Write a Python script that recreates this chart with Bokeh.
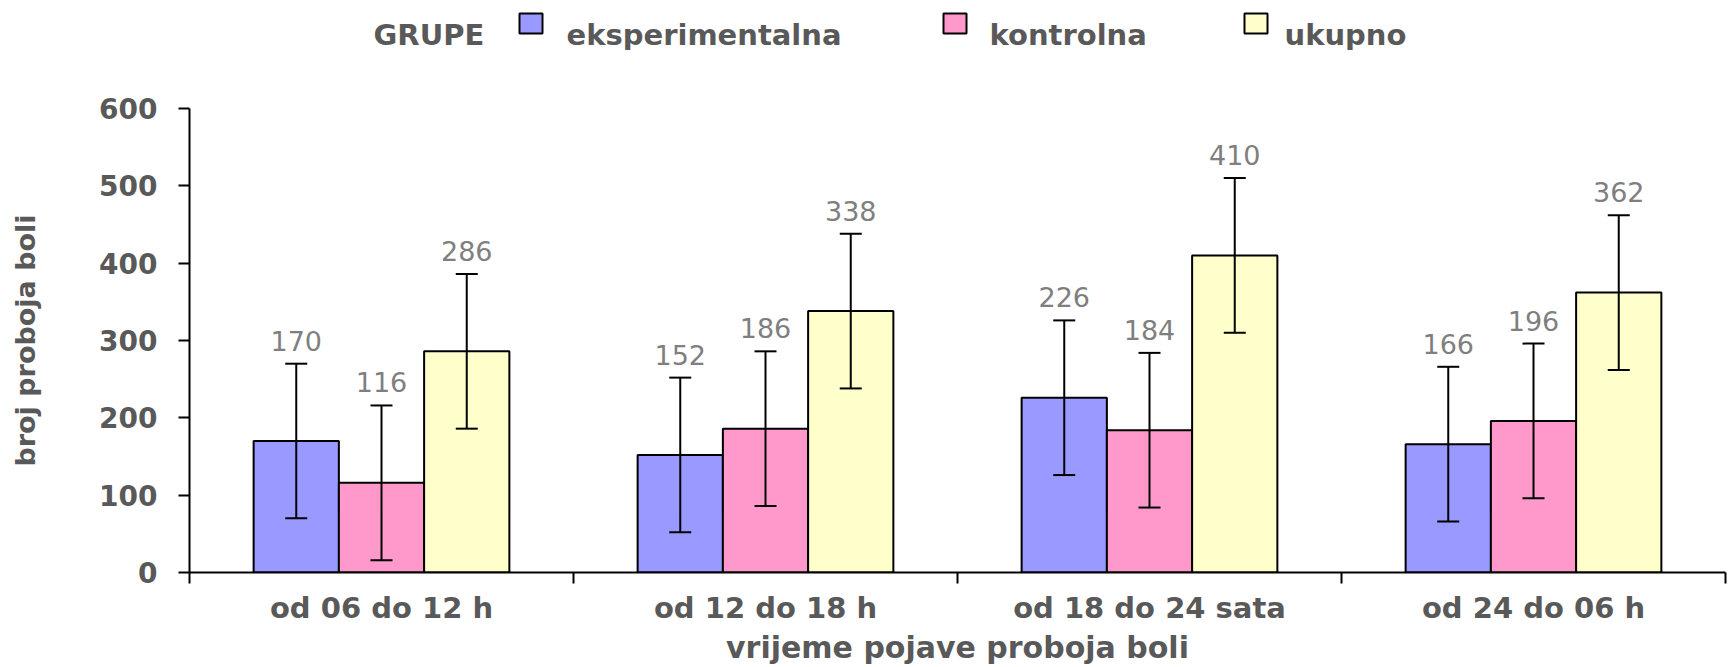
from bokeh.plotting import figure
from bokeh.models import Range1d, FixedTicker, ColumnDataSource, Whisker, TeeHead, LabelSet
from bokeh.layouts import column
from bokeh.embed import file_html
from bokeh.resources import INLINE
from bokeh.core.properties import value

# ---------------- data ----------------
categories = ["od 06 do 12 h", "od 12 do 18 h", "od 18 do 24 sata", "od 24 do 06 h"]
groups = ["eksperimentalna", "kontrolna", "ukupno"]
eksperimentalna = [170, 152, 226, 166]
kontrolna = [116, 186, 184, 196]
ukupno = [286, 338, 410, 362]
err_eksperimentalna = [100, 100, 100, 100]
err_kontrolna = [100, 100, 100, 100]
err_ukupno = [100, 100, 100, 100]
y_ticks = [0, 100, 200, 300, 400, 500, 600]
legend_title = "GRUPE"
x_title = "vrijeme pojave proboja boli"
y_title = "broj proboja boli"

colors = ["#9999FF", "#FF99CC", "#FFFFCC"]
series = [eksperimentalna, kontrolna, ukupno]
errors = [err_eksperimentalna, err_kontrolna, err_ukupno]

FONT = "DejaVu Sans"
TXT = "#595959"
W = 1731
LEFT = 189          # frame left (px)
RIGHT_B = 6         # border right (px)
LG_H = 50
FRAME_TOP = 108
FRAME_BOTTOM = 574

# ---------------- legend strip (x data units == page pixels) ----------------
lg = figure(width=W, height=LG_H, x_range=Range1d(LEFT, W - RIGHT_B), y_range=Range1d(LG_H, 0),
            output_backend="svg", toolbar_location=None,
            min_border_left=LEFT, min_border_right=RIGHT_B, min_border_top=0, min_border_bottom=0,
            x_axis_location=None, y_axis_location=None)
lg.xgrid.visible = False
lg.ygrid.visible = False
lg.outline_line_color = None
sq_left = [519, 943, 1244]
sq_w = 23
txt_x = [566, 989, 1284]
lg.quad(left=sq_left, right=[v + sq_w for v in sq_left], top=[13] * 3, bottom=[33] * 3,
        fill_color=colors, line_color="black", line_width=2)
lg.text(x=[373], y=[34], text=[legend_title], text_font=value(FONT), text_font_style="bold",
        text_font_size="29px", text_color=TXT, text_baseline="alphabetic", text_align="left")
lg.text(x=txt_x, y=[34] * 3, text=groups, text_font=value(FONT), text_font_style="bold",
        text_font_size="29px", text_color=TXT, text_baseline="alphabetic", text_align="left")

# ---------------- main chart ----------------
n = len(categories)
ymax = y_ticks[-1]
p = figure(width=W, height=667 - LG_H, x_range=Range1d(0, n), y_range=Range1d(0, ymax),
           output_backend="svg", toolbar_location=None,
           min_border_left=LEFT, min_border_right=RIGHT_B, min_border_top=FRAME_TOP - LG_H,
           min_border_bottom=667 - FRAME_BOTTOM)
p.outline_line_color = None
p.xgrid.visible = False
p.ygrid.visible = False

bw = 0.222
for j, (vals, errs, col) in enumerate(zip(series, errors, colors)):
    xs = [i + 0.5 + (j - 1) * bw for i in range(n)]
    src = ColumnDataSource(dict(
        x=xs, top=vals,
        upper=[v + e for v, e in zip(vals, errs)],
        lower=[v - e for v, e in zip(vals, errs)],
        label=[str(v) for v in vals]))
    p.vbar(x="x", top="top", bottom=0, width=bw, source=src,
           fill_color=col, line_color="black", line_width=2)
    p.add_layout(Whisker(base="x", upper="upper", lower="lower", source=src, level="annotation",
                         line_color="black", line_width=2,
                         upper_head=TeeHead(size=22, line_color="black", line_width=2),
                         lower_head=TeeHead(size=22, line_color="black", line_width=2)))
    p.add_layout(LabelSet(x="x", y="upper", text="label", source=src,
                          text_align="center", text_baseline="alphabetic", y_offset=13,
                          text_font=value(FONT), text_font_size="27px", text_color="#7f7f7f"))

# x axis
xa = p.xaxis[0]
xa.ticker = FixedTicker(ticks=[i + 0.5 for i in range(n)], minor_ticks=list(range(n + 1)))
xa.major_label_overrides = {i + 0.5: c for i, c in enumerate(categories)}
xa.major_tick_in = 0
xa.major_tick_out = 0
xa.minor_tick_in = 0
xa.minor_tick_out = 11
xa.minor_tick_line_color = "black"
xa.minor_tick_line_width = 2
xa.axis_line_color = "black"
xa.axis_line_width = 2
xa.major_label_text_font = FONT
xa.major_label_text_font_style = "bold"
xa.major_label_text_font_size = "29px"
xa.major_label_text_color = TXT
xa.major_label_standoff = 7
xa.axis_label = x_title
xa.axis_label_text_font = FONT
xa.axis_label_text_font_style = "bold"
xa.axis_label_text_font_size = "30px"
xa.axis_label_text_color = TXT
xa.axis_label_standoff = 2

# y axis
ya = p.yaxis[0]
ya.ticker = FixedTicker(ticks=y_ticks)
ya.major_tick_in = 0
ya.major_tick_out = 11
ya.major_tick_line_color = "black"
ya.major_tick_line_width = 2
ya.minor_tick_out = 0
ya.minor_tick_in = 0
ya.axis_line_color = "black"
ya.axis_line_width = 2
ya.major_label_text_font = FONT
ya.major_label_text_font_style = "bold"
ya.major_label_text_font_size = "28px"
ya.major_label_text_color = TXT
ya.major_label_standoff = 21
ya.axis_label = y_title
ya.axis_label_text_font = FONT
ya.axis_label_text_font_style = "bold"
ya.axis_label_text_font_size = "27px"
ya.axis_label_text_color = TXT
ya.axis_label_standoff = 55

layout = column(lg, p)
open("out.html", "w").write(file_html(layout, INLINE))
